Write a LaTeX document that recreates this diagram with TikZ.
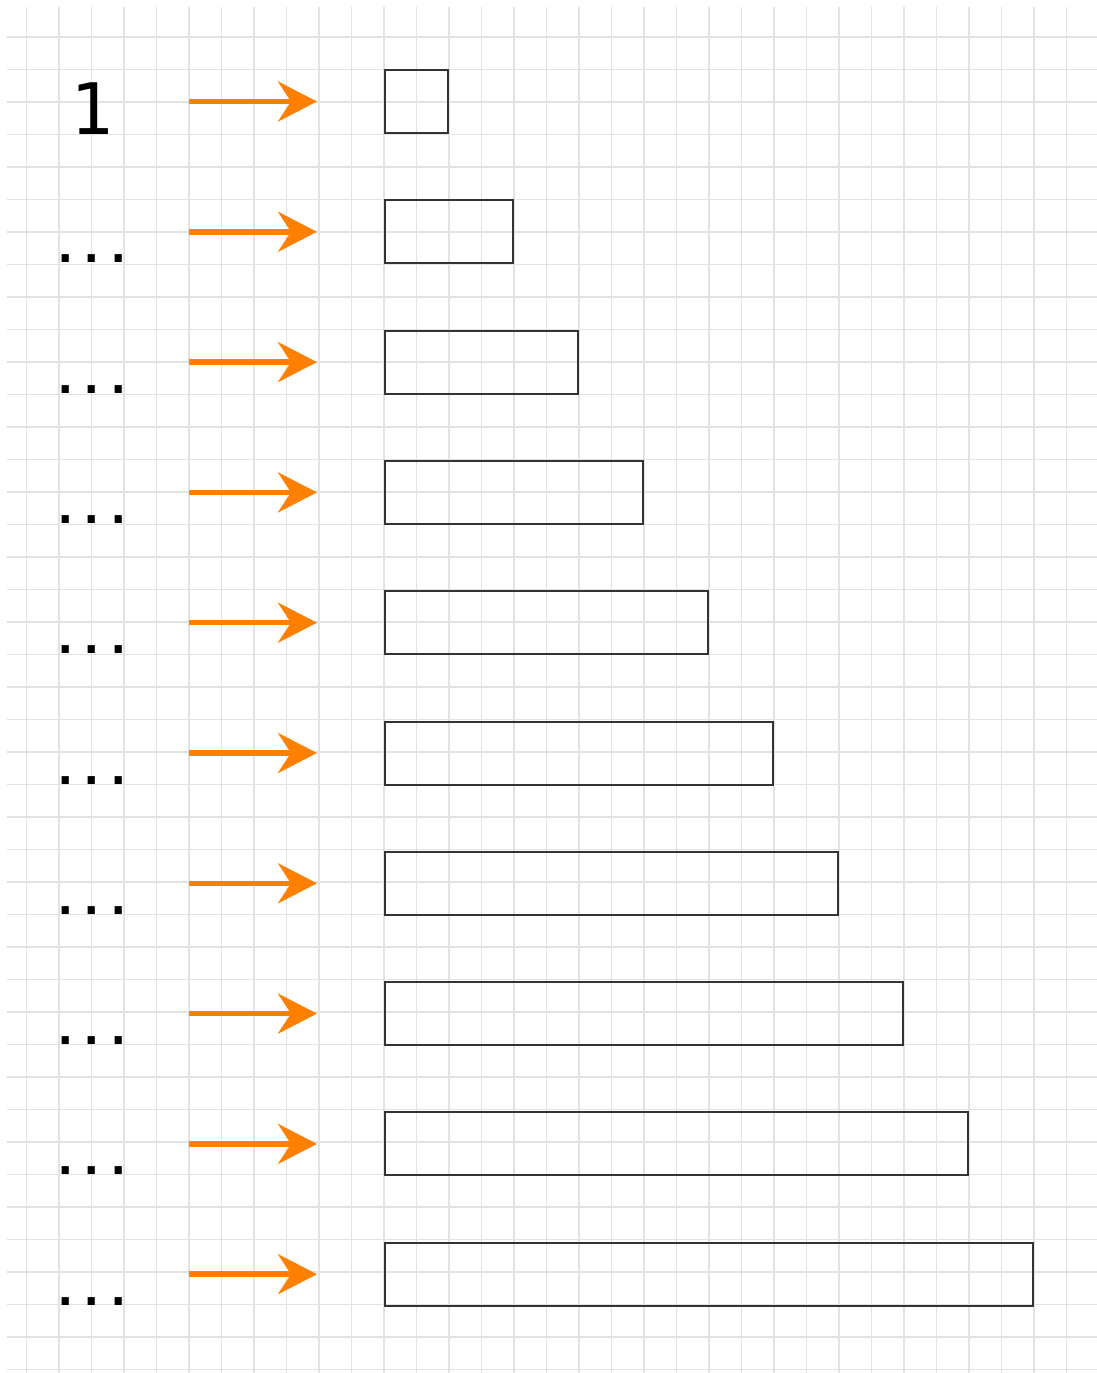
\documentclass[tikz,border=0pt]{standalone}
\usepackage{fontspec}
\newfontfamily\monofont{DejaVu Sans Mono}
\usetikzlibrary{arrows.meta}
\definecolor{arroworange}{HTML}{FF8000}
\definecolor{gridgray}{HTML}{E2E2E2}
\tikzset{
  gridline/.style={draw=gridgray, line width=1.3pt},
  bar/.style={draw=black!80, line width=2pt, fill=none, inner sep=0pt, outer sep=0pt, anchor=north west, minimum height=63pt},
  arrowline/.style={draw=arroworange, line width=5.5pt, -{Stealth[length=39pt,width=40pt,inset=13pt]}},
  biglabel/.style={anchor=base, inner sep=0pt, font=\monofont\fontsize{71}{71}\selectfont},
  dotlabel/.style={anchor=base, inner sep=0pt, font=\monofont\bfseries\fontsize{44}{44}\selectfont}
}
\begin{document}
\begin{tikzpicture}[x=1pt,y=-1pt]
\useasboundingbox (0,0) rectangle (1097,1373);
\fill[white] (0,0) rectangle (1097,1373);
\foreach \i in {0,...,32}
  \draw[gridline] ({26.5+32.5*\i},7) -- ({26.5+32.5*\i},1373);
\foreach \j in {0,...,41}
  \draw[gridline] (7,{37+32.5*\j}) -- (1097,{37+32.5*\j});
\foreach \k in {1,...,10}{
  \pgfmathsetmacro{\top}{70+130.3*(\k-1)}
  \pgfmathsetmacro{\mid}{\top+31.5}
  \pgfmathsetmacro{\wid}{65*\k-2}
  \node[bar, minimum width=\wid pt] (b\k) at (384.5,\top) {};
  \coordinate (s\k) at (189,\mid);
  \coordinate (e\k) at (317,\mid);
  \draw[arrowline] (s\k) -- (e\k);
}
\node[biglabel] (l1) at (92,134) {1};
\foreach \k in {2,...,10}{
  \pgfmathsetmacro{\base}{70+130.3*(\k-1)+62.5}
  \node[dotlabel] (l\k) at (92,\base) {...};
}
\end{tikzpicture}
\end{document}
